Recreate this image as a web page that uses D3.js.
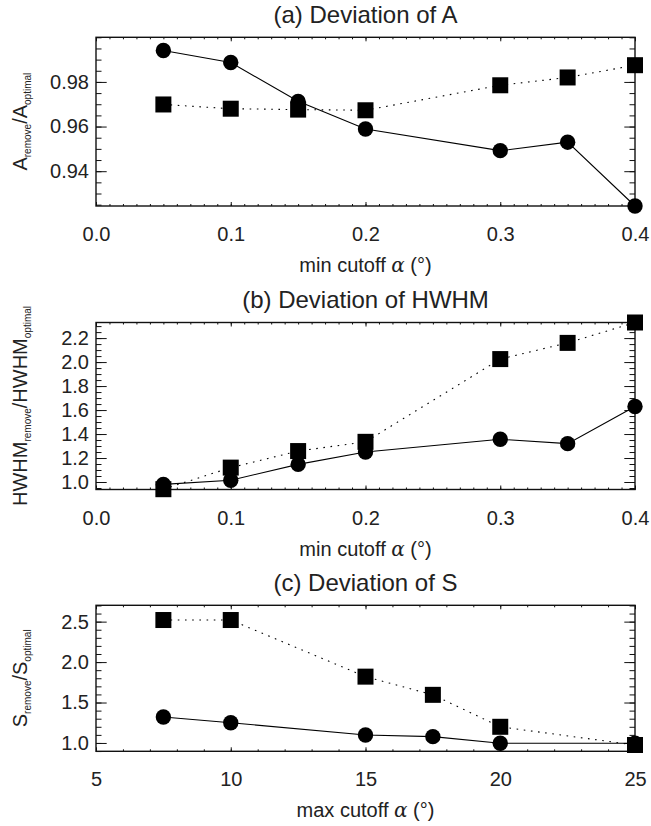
<!DOCTYPE html>
<html>
<head>
<meta charset="utf-8">
<script src="https://cdn.jsdelivr.net/npm/d3@7"></script>
<style>
  body { margin: 0; background: #fff; }
  text { font-family: "Liberation Sans", Arial, Helvetica, sans-serif; fill: #222; }
</style>
</head>
<body>
<svg id="chart" width="651" height="826"></svg>
<script>
// min cutoff alpha (deg), panels a and b
const alphaMin = [0.05, 0.1, 0.15, 0.2, 0.3, 0.35, 0.4];
// max cutoff alpha (deg), panel c
const alphaMax = [7.5, 10, 15, 17.5, 20, 25];

// circles, solid line
const aCircle = [0.9941, 0.9887, 0.9713, 0.9589, 0.9492, 0.9530, 0.9244];
// squares, dotted line
const aSquare = [0.9699, 0.9680, 0.9676, 0.9673, 0.9785, 0.9820, 0.9875];

const hwhmCircle = [0.98, 1.015, 1.147, 1.25, 1.356, 1.32, 1.63];
const hwhmSquare = [0.94, 1.12, 1.258, 1.335, 2.025, 2.16, 2.33];

const sCircle = [1.321, 1.25, 1.099, 1.078, 0.996, 0.996];
const sSquare = [2.52, 2.52, 1.82, 1.595, 1.20, 0.975];

// tick labels
const xTicksMin = [0.0, 0.1, 0.2, 0.3, 0.4];
const xTicksMax = [5, 10, 15, 20, 25];
const yTicksA = [0.94, 0.96, 0.98];
const yTicksB = [1.0, 1.2, 1.4, 1.6, 1.8, 2.0, 2.2];
const yTicksC = [1.0, 1.5, 2.0, 2.5];

const svg = d3.select("#chart");

const left = 96, right = 635;

const panels = [
  {
    title: "(a) Deviation of A",
    top: 37.3, bottom: 206,
    xDom: [0, 0.4], yDom: [0.9244, 1.0],
    xs: alphaMin, circ: aCircle, sq: aSquare,
    xTicks: xTicksMin, xMinorN: 40, xFmt: d3.format(".1f"),
    yTicks: yTicksA, yMinorStep: 0.005, yFmt: d3.format(".2f"),
    xlabel: "min cutoff", ymain: "A"
  },
  {
    title: "(b) Deviation of HWHM",
    top: 322.5, bottom: 489.5,
    xDom: [0, 0.4], yDom: [0.9375, 2.33],
    xs: alphaMin, circ: hwhmCircle, sq: hwhmSquare,
    xTicks: xTicksMin, xMinorN: 40, xFmt: d3.format(".1f"),
    yTicks: yTicksB, yMinorStep: 0.05, yFmt: d3.format(".1f"),
    xlabel: "min cutoff", ymain: "HWHM"
  },
  {
    title: "(c) Deviation of S",
    top: 605.3, bottom: 751.3,
    xDom: [5, 25], yDom: [0.897, 2.702],
    xs: alphaMax, circ: sCircle, sq: sSquare,
    xTicks: xTicksMax, xMinorN: 20, xFmt: d3.format("d"),
    yTicks: yTicksC, yMinorStep: 0.1, yFmt: d3.format(".1f"),
    xlabel: "max cutoff", ymain: "S"
  }
];

panels.forEach((p) => {
  const x = d3.scaleLinear().domain(p.xDom).range([left, right]);
  const y = d3.scaleLinear().domain(p.yDom).range([p.bottom, p.top]);
  const g = svg.append("g");

  const xMinor = d3.range(0, p.xMinorN + 1).map((i) => p.xDom[0] + (p.xDom[1] - p.xDom[0]) * i / p.xMinorN);
  const y0 = Math.ceil(p.yDom[0] / p.yMinorStep - 1e-6);
  const y1 = Math.floor(p.yDom[1] / p.yMinorStep + 1e-6);
  const yMinor = d3.range(y0, y1 + 1).map((i) => +(i * p.yMinorStep).toFixed(4));

  // minor ticks on all four sides (inward)
  g.append("g").attr("transform", `translate(0,${p.bottom})`)
    .call(d3.axisBottom(x).tickValues(xMinor).tickSize(-2).tickFormat(""));
  g.append("g").attr("transform", `translate(0,${p.top})`)
    .call(d3.axisTop(x).tickValues(xMinor).tickSize(-2).tickFormat(""));
  g.append("g").attr("transform", `translate(${left},0)`)
    .call(d3.axisLeft(y).tickValues(yMinor).tickSize(-5.5).tickFormat(""));
  g.append("g").attr("transform", `translate(${right},0)`)
    .call(d3.axisRight(y).tickValues(yMinor).tickSize(-5.5).tickFormat(""));

  // major ticks + labels
  const xAx = g.append("g").attr("transform", `translate(0,${p.bottom})`)
    .call(d3.axisBottom(x).tickValues(p.xTicks).tickSize(-4).tickPadding(21).tickFormat(p.xFmt));
  g.append("g").attr("transform", `translate(0,${p.top})`)
    .call(d3.axisTop(x).tickValues(p.xTicks).tickSize(-4).tickFormat(""));
  const yAx = g.append("g").attr("transform", `translate(${left},0)`)
    .call(d3.axisLeft(y).tickValues(p.yTicks).tickSize(-10.7).tickPadding(7).tickFormat(p.yFmt));
  g.append("g").attr("transform", `translate(${right},0)`)
    .call(d3.axisRight(y).tickValues(p.yTicks).tickSize(-10.7).tickFormat(""));

  g.selectAll(".domain").remove();
  g.selectAll(".tick line").attr("stroke", "#111").attr("stroke-width", 1);
  xAx.selectAll("text").style("font-size", "20px").attr("fill", "#222");
  yAx.selectAll("text").style("font-size", "20px").attr("fill", "#222");

  g.append("rect")
    .attr("x", left).attr("y", p.top)
    .attr("width", right - left).attr("height", p.bottom - p.top)
    .attr("fill", "none").attr("stroke", "#111").attr("stroke-width", 1.4);

  // lines
  const line = d3.line().x((d) => x(d[0])).y((d) => y(d[1]));
  g.append("path").datum(d3.zip(p.xs, p.sq)).attr("d", line)
    .attr("fill", "none").attr("stroke", "#000").attr("stroke-width", 1.1)
    .attr("stroke-dasharray", "1.6,5.6");
  g.append("path").datum(d3.zip(p.xs, p.circ)).attr("d", line)
    .attr("fill", "none").attr("stroke", "#000").attr("stroke-width", 1.1);

  // markers
  g.selectAll(".circ").data(d3.zip(p.xs, p.circ)).join("circle")
    .attr("cx", (d) => x(d[0])).attr("cy", (d) => y(d[1])).attr("r", 7.7).attr("fill", "#000");
  g.selectAll(".sq").data(d3.zip(p.xs, p.sq)).join("rect")
    .attr("x", (d) => x(d[0]) - 8).attr("y", (d) => y(d[1]) - 8)
    .attr("width", 16).attr("height", 16).attr("fill", "#000");

  // title
  g.append("text").attr("x", (left + right) / 2).attr("y", p.top - 14.3)
    .attr("text-anchor", "middle").style("font-size", "24px").text(p.title);

  // x label
  const xl = g.append("text").attr("x", (left + right) / 2).attr("y", p.bottom + 66)
    .attr("text-anchor", "middle").style("font-size", "20px");
  xl.append("tspan").text(p.xlabel + " ");
  xl.append("tspan").style("font-family", "'DejaVu Serif', serif").style("font-style", "italic").text("α");
  xl.append("tspan").text(" (°)");

  // y label
  const yl = g.append("text")
    .attr("transform", `translate(27,${(p.top + p.bottom) / 2}) rotate(-90)`)
    .attr("text-anchor", "middle").style("font-size", "20px");
  yl.append("tspan").text(p.ymain);
  yl.append("tspan").attr("dy", 4).style("font-size", "10px").text("remove");
  yl.append("tspan").attr("dy", -4).text("/" + p.ymain);
  yl.append("tspan").attr("dy", 4).style("font-size", "10px").text("optimal");
});
</script>
</body>
</html>
